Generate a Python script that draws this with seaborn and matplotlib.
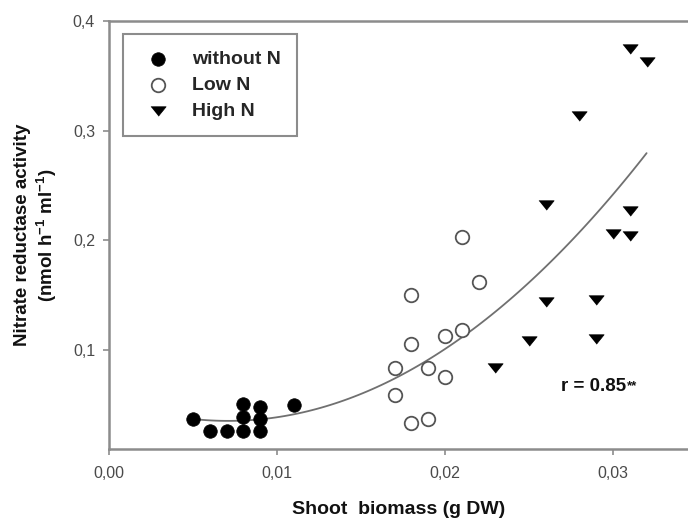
import numpy as np
import pandas as pd
import matplotlib
matplotlib.use("Agg")
import matplotlib.pyplot as plt
import seaborn as sns

# ---- data ----
x_without = [0.005, 0.006, 0.007, 0.008, 0.008, 0.008, 0.009, 0.009, 0.009, 0.011]
y_without = [0.037, 0.026, 0.026, 0.026, 0.039, 0.051, 0.026, 0.037, 0.048, 0.050]

x_low = [0.017, 0.017, 0.018, 0.018, 0.018, 0.019, 0.019, 0.020, 0.020, 0.021, 0.021, 0.022]
y_low = [0.084, 0.059, 0.150, 0.106, 0.034, 0.084, 0.037, 0.113, 0.076, 0.203, 0.118, 0.162]

x_high = [0.023, 0.025, 0.026, 0.026, 0.028, 0.029, 0.029, 0.030, 0.031, 0.031, 0.031, 0.032]
y_high = [0.084, 0.108, 0.144, 0.232, 0.313, 0.146, 0.110, 0.206, 0.227, 0.204, 0.374, 0.362]

series_labels = ["without N", "Low N", "High N"]
x_ticks = [0.00, 0.01, 0.02, 0.03]
x_tick_labels = ["0,00", "0,01", "0,02", "0,03"]
y_ticks = [0.1, 0.2, 0.3, 0.4]
y_tick_labels = ["0,1", "0,2", "0,3", "0,4"]
r_text = "r = 0.85"

# ---- style ----
sns.set_theme(style="white")
plt.rcParams["font.family"] = ["Liberation Sans", "DejaVu Sans"]
plt.rcParams["mathtext.fontset"] = "custom"
plt.rcParams["mathtext.rm"] = "Liberation Sans:bold"
plt.rcParams["mathtext.it"] = "Liberation Sans:bold"
plt.rcParams["mathtext.bf"] = "Liberation Sans:bold"
plt.rcParams["mathtext.default"] = "rm"

spine_col = "#8c8c8c"
tick_col = "#4a4a4a"

fig = plt.figure(figsize=(6.88, 5.19), dpi=100)
ax = fig.add_axes([109 / 688, 1 - 449 / 519, (688 - 109) / 688, (449 - 20.7) / 519])

df = pd.concat([
    pd.DataFrame({"x": x_without, "y": y_without, "g": series_labels[0]}),
    pd.DataFrame({"x": x_low, "y": y_low, "g": series_labels[1]}),
    pd.DataFrame({"x": x_high, "y": y_high, "g": series_labels[2]}),
], ignore_index=True)

# fitted curve (quadratic regression across all groups)
sns.regplot(data=df, x="x", y="y", order=2, ci=None, scatter=False, truncate=True,
            ax=ax, line_kws=dict(color="#707070", lw=1.3, zorder=1))

tri = [(-1, 0.62), (1, 0.62), (0, -0.62)]
sns.scatterplot(data=df[df.g == series_labels[0]], x="x", y="y", ax=ax, marker="o",
                s=95, color="black", edgecolor="black", linewidth=0.5,
                label=series_labels[0], zorder=3)
sns.scatterplot(data=df[df.g == series_labels[1]], x="x", y="y", ax=ax, marker="o",
                s=95, facecolor="white", edgecolor="#555555", linewidth=1.3,
                label=series_labels[1], zorder=3)
sns.scatterplot(data=df[df.g == series_labels[2]], x="x", y="y", ax=ax, marker=tri,
                s=120, color="black", edgecolor="black", linewidth=0.5,
                label=series_labels[2], zorder=3)

ax.set_xlim(0, (688 - 109) / 16800)
ax.set_ylim(0.01, 0.4)
ax.set_xticks(x_ticks)
ax.set_xticklabels(x_tick_labels)
ax.set_yticks(y_ticks)
ax.set_yticklabels(y_tick_labels)
ax.tick_params(axis="both", which="both", direction="out", length=4, width=1.2,
               color=spine_col, labelcolor=tick_col, labelsize=11.5,
               bottom=True, left=True)
ax.tick_params(axis="x", pad=8)
ax.tick_params(axis="y", pad=6)

for side in ["left", "bottom", "top"]:
    ax.spines[side].set_color(spine_col)
    ax.spines[side].set_linewidth(1.8)
ax.spines["right"].set_visible(False)

ax.set_xlabel("Shoot  biomass (g DW)", fontsize=14, fontweight="bold", labelpad=15,
              color="#111111")
ax.set_ylabel("Nitrate reductase activity\n(nmol h$^{-1}$ ml$^{-1}$)", fontsize=13.5,
              fontweight="bold", labelpad=10, color="#111111", linespacing=1.2)

t = ax.text(0.0269, 0.0666, r_text, fontsize=13.5, fontweight="bold", color="#111111",
            ha="left", va="center")
ax.annotate("**", xy=(1, 1), xycoords=t, xytext=(0.5, -1), textcoords="offset points",
            fontsize=9.5, fontweight="bold", color="#111111", ha="left", va="top")

leg = ax.legend(loc="upper left", bbox_to_anchor=(0.0242, 0.969), borderaxespad=0,
                frameon=True, fancybox=False, framealpha=1, edgecolor=spine_col,
                prop=dict(weight="bold", size=14), borderpad=0.85,
                handlelength=1.9, handletextpad=0.8, labelspacing=0.42)
leg.get_frame().set_linewidth(1.5)

fig.savefig("out.png", dpi=100)
